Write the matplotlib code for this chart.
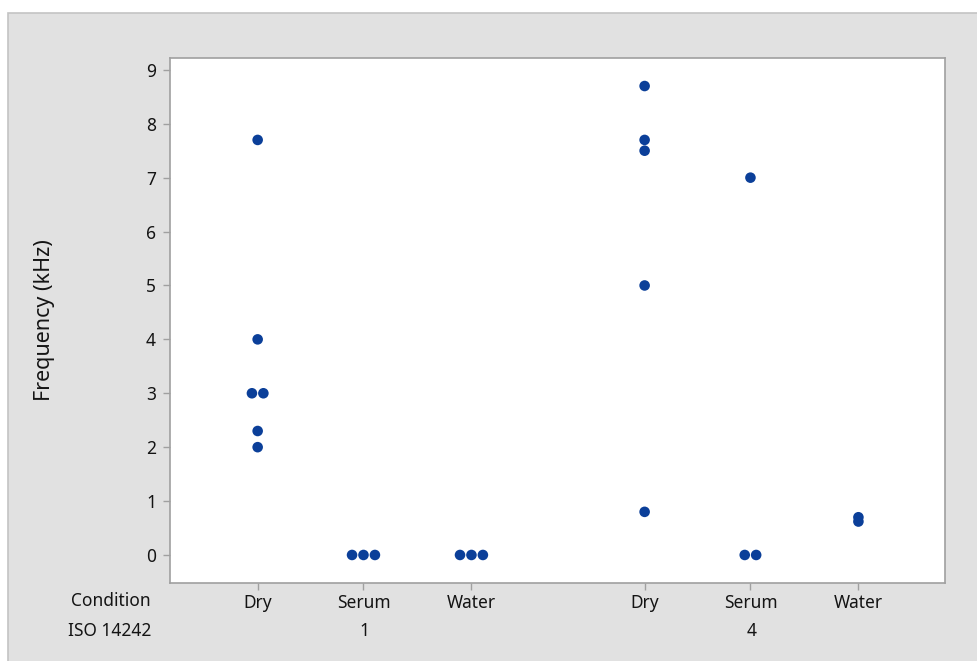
import matplotlib
matplotlib.use("Agg")
import matplotlib.pyplot as plt
from matplotlib.patches import Rectangle
from matplotlib.transforms import blended_transform_factory
import numpy as np

plt.rcParams['font.family'] = ['Noto Sans', 'DejaVu Sans']

conditions = ["Dry", "Serum", "Water", "Dry", "Serum", "Water"]
iso_levels = ["1", "4"]
group_iso = [0, 0, 0, 1, 1, 1]
values = [
    [7.7, 4.0, 3.0, 3.0, 2.3, 2.0],      # Dry, ISO 1
    [0.0, 0.0, 0.0],                     # Serum, ISO 1
    [0.0, 0.0, 0.0],                     # Water, ISO 1
    [8.7, 7.7, 7.5, 5.0, 0.8],           # Dry, ISO 4
    [7.0, 0.0, 0.0],                     # Serum, ISO 4
    [0.7, 0.62],                         # Water, ISO 4
]

positions = [1.0, 1.99, 3.0, 4.62, 5.61, 6.62]
marker_color = "#0b3f99"
text_color = "#141414"

fig = plt.figure(figsize=(9.78, 6.61), dpi=100)
fig.patch.set_facecolor("white")
W, H = 978, 661
bg = Rectangle((8 / W, -0.01), 1.0, (661 - 13) / H + 0.01, transform=fig.transFigure,
               facecolor="#e1e1e1", edgecolor="#c4c4c4", linewidth=1.2, zorder=0)
fig.add_artist(bg)

ax = fig.add_axes([170 / W, 1 - 583 / H, (945 - 170) / W, (583 - 58) / H])
ax.set_facecolor("white")

spread = 0.107
for pos, vals in zip(positions, values):
    vals = np.asarray(vals)
    uniq, counts = np.unique(vals, return_counts=True)
    for u, c in zip(uniq, counts):
        offs = (np.arange(c) - (c - 1) / 2) * spread
        ax.scatter(pos + offs, np.full(c, u), s=58, color=marker_color,
                   edgecolors="none", zorder=3)

ax.set_xlim(0.18, 7.43)
ax.set_ylim(-0.52, 9.22)
ax.set_yticks(range(0, 10))
ax.set_xticks(positions)
ax.set_xticklabels(conditions)
for sp in ax.spines.values():
    sp.set_color("#a0a0a0")
    sp.set_linewidth(1.2)
ax.tick_params(axis="both", colors="#a0a0a0", labelcolor=text_color,
               labelsize=12.5, length=5, width=1)
ax.tick_params(axis="x", pad=3)
ax.tick_params(axis="y", pad=5)

trans = blended_transform_factory(ax.transData, fig.transFigure)
for i, lvl in enumerate(iso_levels):
    idx = [k for k, g in enumerate(group_iso) if g == i]
    center = np.mean([positions[k] for k in idx])
    ax.text(center, 1 - 631 / H, lvl, transform=trans, ha="center", va="center",
            fontsize=12.5, color=text_color)

fig.text(151 / W, 1 - 601 / H, "Condition", ha="right", va="center",
         fontsize=12.5, color=text_color)
fig.text(151 / W, 1 - 631 / H, "ISO 14242", ha="right", va="center",
         fontsize=12.5, color=text_color)
fig.text(45 / W, 1 - 320 / H, "Frequency (kHz)", rotation=90, ha="center",
         va="center", fontsize=15.5, color=text_color)

fig.savefig("out.png", dpi=100, facecolor=fig.get_facecolor())
